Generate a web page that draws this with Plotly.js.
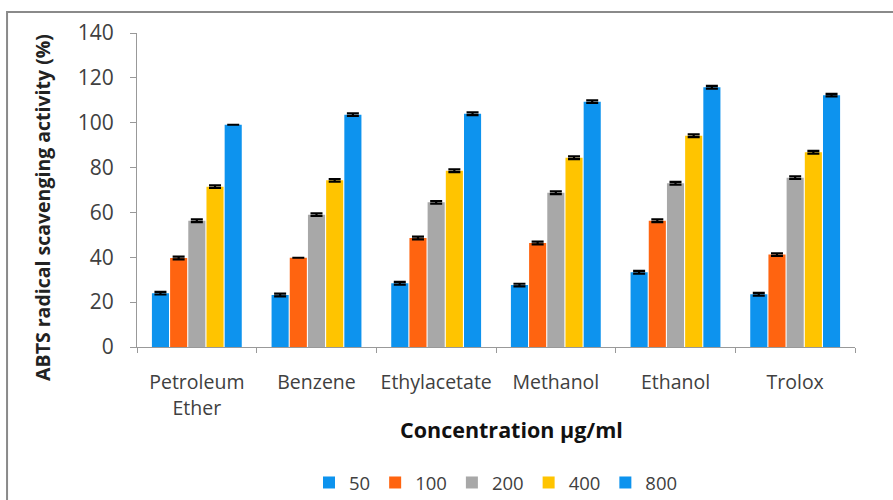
<!DOCTYPE html>
<html>
<head>
<meta charset="utf-8">
<script src="https://cdn.plot.ly/plotly-3.0.1.min.js"></script>
<style>
html,body{margin:0;padding:0;background:#fff;}
#chart{width:893px;height:500px;}
</style>
</head>
<body>
<div id="chart"></div>
<script>
const categories = ["Petroleum<br>Ether", "Benzene", "Ethylacetate", "Methanol", "Ethanol", "Trolox"];
const seriesNames = ["50", "100", "200", "400", "800"];
const v50  = [24.0, 23.2, 28.4, 27.6, 33.3, 23.5];
const v100 = [39.7, 39.8, 48.6, 46.4, 56.3, 41.2];
const v200 = [56.3, 59.0, 64.5, 68.8, 73.0, 75.5];
const v400 = [71.5, 74.3, 78.6, 84.4, 94.2, 86.8];
const v800 = [99.1, 103.6, 104.0, 109.4, 115.8, 112.3];
const e50  = [0.6, 0.6, 0.6, 0.6, 0.6, 0.6];
const e100 = [0.6, 0.0, 0.6, 0.6, 0.6, 0.6];
const e200 = [0.6, 0.6, 0.6, 0.6, 0.6, 0.6];
const e400 = [0.6, 0.6, 0.6, 0.6, 0.6, 0.6];
const e800 = [0.0, 0.6, 0.6, 0.6, 0.6, 0.6];
const yTicks = [0, 20, 40, 60, 80, 100, 120, 140];
const xTitle = "Concentration µg/ml";
const yTitle = "ABTS radical scavenging activity (%)";

const values = [v50, v100, v200, v400, v800];
const errors = [e50, e100, e200, e400, e800];
const colors = ["#0d93ee", "#ff6410", "#a8a8a8", "#ffc400", "#0d93ee"];

const traces = seriesNames.map((n, i) => ({
  type: "bar",
  name: n,
  x: categories,
  y: values[i],
  marker: {color: colors[i], line: {width: 0}},
  error_y: {type: "data", array: errors[i], visible: true, color: "#000", thickness: 2.2, width: 6}
}));

const font = "'Open Sans', sans-serif";
const layout = {
  width: 893, height: 500,
  margin: {l: 137, r: 38, t: 33, b: 153, autoexpand: false},
  paper_bgcolor: "#fff", plot_bgcolor: "#fff",
  barmode: "group", bargap: 0.24, bargroupgap: 0.06,
  font: {family: font, color: "#404040", size: 16},
  showlegend: true,
  legend: {orientation: "h", x: 0.5, xanchor: "center", y: -0.433, yanchor: "middle",
           font: {size: 18.5, color: "#404040"}, itemwidth: 30, traceorder: "normal"},
  xaxis: {
    type: "category", tickmode: "array", tickvals: categories, ticktext: categories,
    tickson: "boundaries", ticks: "outside", ticklen: 5, tickcolor: "#999", tickangle: 0,
    showline: true, linecolor: "#999", linewidth: 1, showgrid: false, automargin: false,
    tickfont: {size: 19.5, color: "#404040"}, ticklabelstandoff: 18
  },
  yaxis: {
    range: [0, 140], tickmode: "array", tickvals: yTicks, ticktext: yTicks.map(String),
    ticks: "outside", ticklen: 6, tickcolor: "#999", automargin: false,
    showline: true, linecolor: "#999", linewidth: 1, showgrid: false, zeroline: false,
    tickfont: {size: 21, color: "#404040"}, ticklabelstandoff: 12
  },
  annotations: [
    {text: "<b>" + xTitle + "</b>", xref: "paper", yref: "paper", x: 0.022 + 0.5, y: -0.263,
     xanchor: "center", yanchor: "middle", showarrow: false, font: {size: 21.5, color: "#111"}},
    {text: "<b>" + yTitle + "</b>", xref: "paper", yref: "paper", x: -0.131, y: 0.446,
     xanchor: "center", yanchor: "middle", textangle: -90, showarrow: false, font: {size: 19.5, color: "#222"}}
  ],
  shapes: [
    {type: "rect", xref: "paper", yref: "paper", x0: -0.181, x1: 1.2, y0: -0.8, y1: 1.067,
     line: {color: "#8a8a8a", width: 2}, fillcolor: "rgba(0,0,0,0)", layer: "below"}
  ]
};

Plotly.newPlot("chart", traces, layout, {displayModeBar: false, staticPlot: true});
</script>
</body>
</html>
